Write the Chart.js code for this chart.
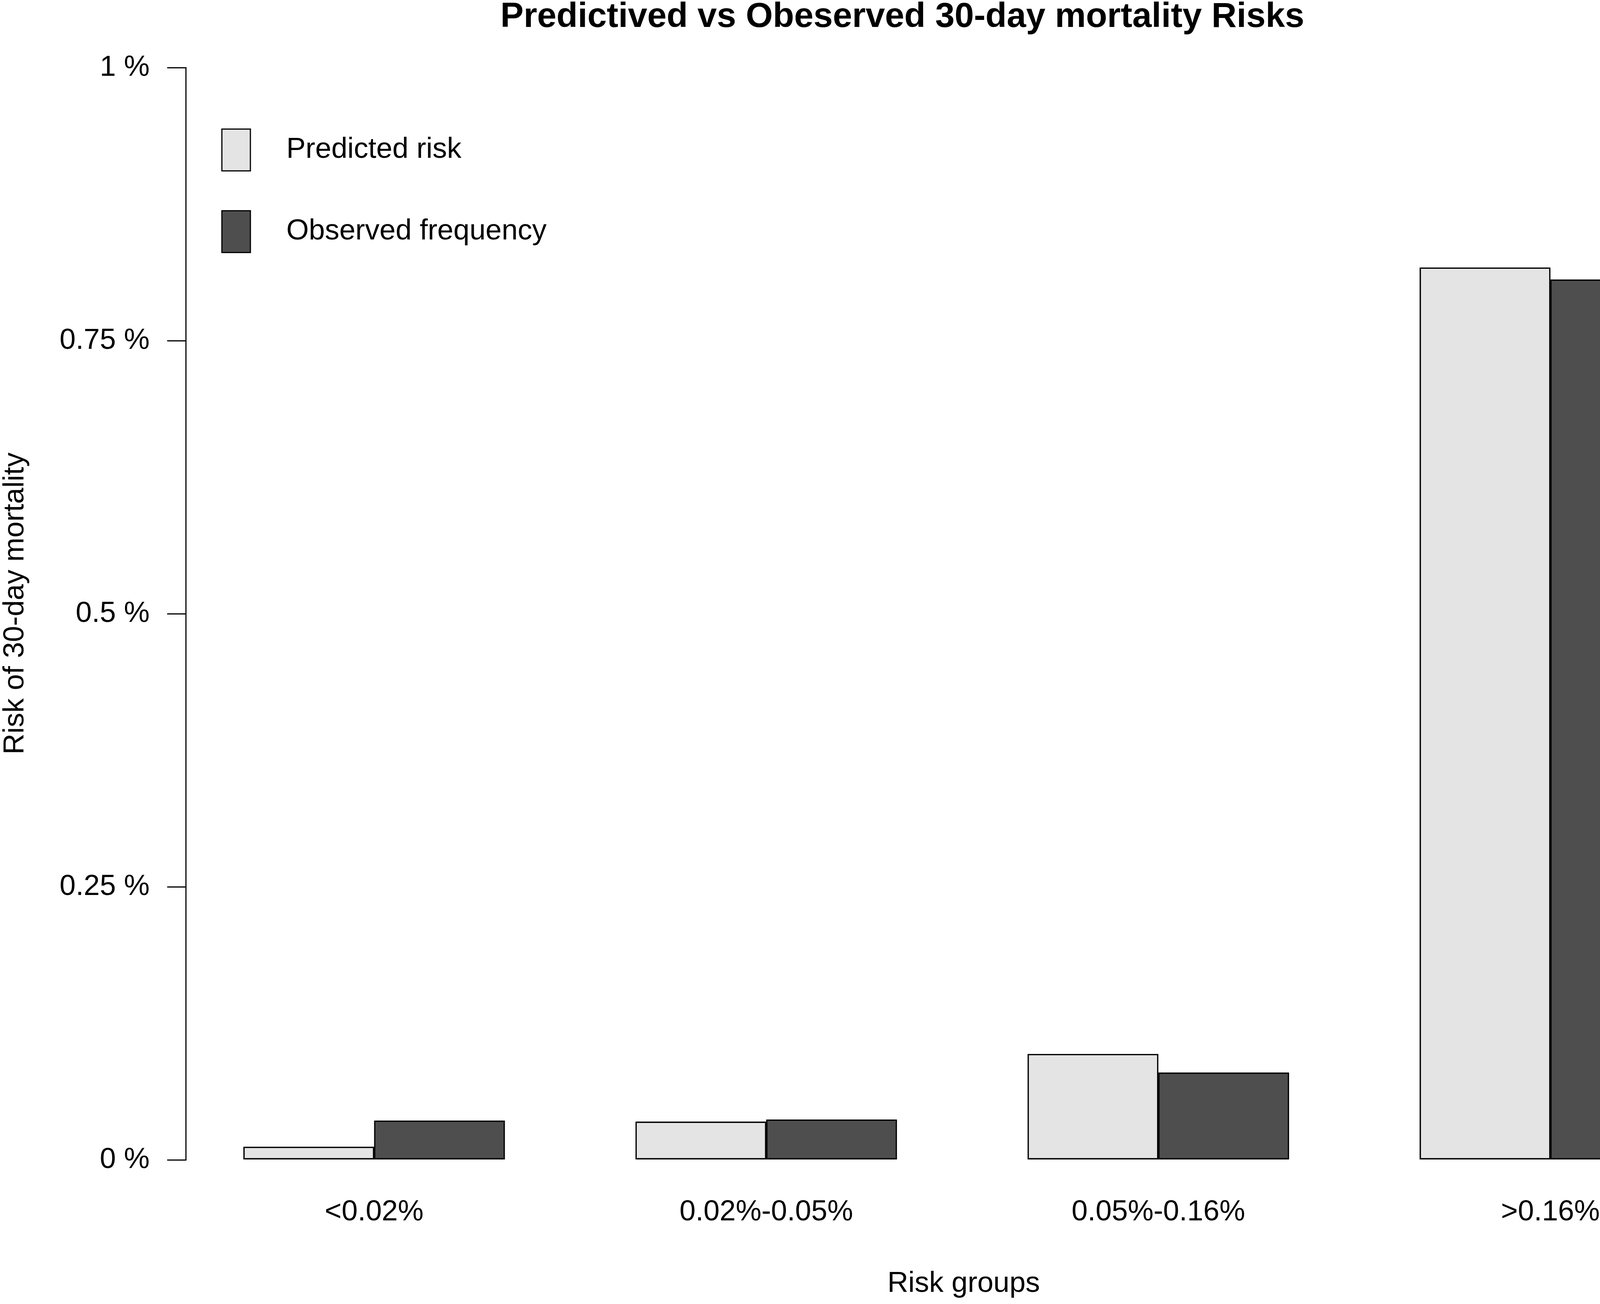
<!DOCTYPE html>
<html>
<head>
<meta charset="utf-8">
<script src="https://cdn.jsdelivr.net/npm/chart.js@4/dist/chart.umd.min.js"></script>
<style>
  html, body { margin: 0; padding: 0; background: #ffffff; }
  #wrap { width: 4317px; height: 3338px; position: relative; }
</style>
</head>
<body>
<div id="wrap"><canvas id="c"></canvas></div>
<script>
// ---- data ----
const categories = ['<0.02%', '0.02%-0.05%', '0.05%-0.16%', '>0.16%'];
const predictedRisk = [0.012, 0.035, 0.097, 0.817];
const observedFrequency = [0.036, 0.037, 0.080, 0.806];
const seriesNames = ['Predicted risk', 'Observed frequency'];
const yTickValues = [0, 0.25, 0.5, 0.75, 1];
const yTickLabels = ['0 %', '0.25 %', '0.5 %', '0.75 %', '1 %'];
const chartTitle = 'Predictived vs Obeserved 30-day mortality Risks';
const xAxisTitle = 'Risk groups';
const yAxisTitle = 'Risk of 30-day mortality';

// R barplot(beside = TRUE) layout: each group = 1 space unit + 2 bars of 1 unit
const barSlot = (g, k) => 3 * g + 1.5 + k;
const groupCenter = g => 3 * g + 2;

const FONT = "'Liberation Sans', Arial, Helvetica, sans-serif";
Chart.defaults.font.family = FONT;
Chart.defaults.color = '#000000';

// R's plot region extends past the right edge of the picture; centre the
// x-axis title on that wider region (only the title uses the box edge).
const xTitleRegion = {
  id: 'xTitleRegion',
  afterLayout(chart, args, o) {
    chart.scales.x.right += o.extend;
  }
};

const yAxisLine = {
  id: 'yAxisLine',
  afterDraw(chart) {
    const ys = chart.scales.y;
    const x = chart.chartArea.left;
    const ctx = chart.ctx;
    ctx.save();
    ctx.strokeStyle = '#000000';
    ctx.lineWidth = 3;
    ctx.beginPath();
    ctx.moveTo(x, ys.getPixelForValue(yTickValues[0]) + 1.5);
    ctx.lineTo(x, ys.getPixelForValue(yTickValues[yTickValues.length - 1]) - 1.5);
    ctx.stroke();
    ctx.restore();
  }
};

const rLegend = {
  id: 'rLegend',
  afterDraw(chart, args, o) {
    const { ctx, chartArea } = chart;
    ctx.save();
    chart.data.datasets.forEach((ds, i) => {
      const bx = chartArea.left + o.offsetX;
      const by = chartArea.top + o.offsetY + i * o.rowPitch;
      ctx.fillStyle = ds.backgroundColor;
      ctx.fillRect(bx, by, o.boxW, o.boxH);
      ctx.lineWidth = 3;
      ctx.strokeStyle = '#000000';
      ctx.strokeRect(bx, by, o.boxW, o.boxH);
      ctx.fillStyle = '#000000';
      ctx.font = o.fontSize + 'px ' + FONT;
      ctx.textAlign = 'left';
      ctx.textBaseline = 'middle';
      ctx.fillText(ds.label, bx + o.textDX, by + o.boxH / 2);
    });
    ctx.restore();
  }
};

new Chart(document.getElementById('c'), {
  type: 'bar',
  data: {
    datasets: [
      {
        label: seriesNames[0],
        data: predictedRisk.map((v, g) => ({ x: barSlot(g, 0), y: v })),
        backgroundColor: '#E4E4E4',
        borderColor: '#000000',
        borderWidth: 3.5,
        borderSkipped: false,
        grouped: false,
        barPercentage: 1,
        categoryPercentage: 1
      },
      {
        label: seriesNames[1],
        data: observedFrequency.map((v, g) => ({ x: barSlot(g, 1), y: v })),
        backgroundColor: '#4E4E4E',
        borderColor: '#000000',
        borderWidth: 3.5,
        borderSkipped: false,
        grouped: false,
        barPercentage: 1,
        categoryPercentage: 1
      }
    ]
  },
  options: {
    responsive: true,
    maintainAspectRatio: false,
    devicePixelRatio: 1,
    animation: false,
    layout: { padding: { left: 130, right: -173, top: 0, bottom: 0 } },
    plugins: {
      legend: { display: false },
      tooltip: { enabled: false },
      title: {
        display: true,
        text: chartTitle,
        color: '#000000',
        font: { size: 89, weight: 'bold', lineHeight: 1 },
        padding: { top: 0, bottom: 0 }
      },
      xTitleRegion: { extend: 141 },
      rLegend: { offsetX: 92, offsetY: 241, rowPitch: 209, boxW: 73, boxH: 107, textDX: 165, fontSize: 74 }
    },
    scales: {
      x: {
        type: 'linear',
        offset: false,
        min: 0.56,
        max: 12.04,
        grid: { display: false, drawTicks: false, offset: false },
        border: { display: false },
        afterBuildTicks: s => { s.ticks = categories.map((c, g) => ({ value: groupCenter(g) })); },
        afterFit: s => { s.height = 338; },
        ticks: {
          autoSkip: false,
          maxRotation: 0,
          minRotation: 0,
          padding: 59,
          font: { size: 74 },
          color: '#000000',
          callback: (v, i) => categories[i]
        },
        title: {
          display: true,
          text: xAxisTitle,
          color: '#000000',
          font: { size: 74 },
          padding: { top: 0, bottom: 7 }
        }
      },
      y: {
        type: 'linear',
        min: -0.011,
        max: 1.03,
        grid: { display: true, drawOnChartArea: false, drawTicks: true, tickLength: 48, color: '#000000', lineWidth: 3 },
        border: { display: false },
        afterBuildTicks: s => { s.ticks = yTickValues.map(v => ({ value: v })); },
        afterFit: s => { s.width = 346; },
        ticks: {
          autoSkip: false,
          padding: 45,
          font: { size: 74 },
          color: '#000000',
          callback: (v, i) => yTickLabels[i]
        },
        title: {
          display: true,
          text: yAxisTitle,
          color: '#000000',
          font: { size: 74 },
          padding: { top: -135, bottom: 0 }
        }
      }
    }
  },
  plugins: [xTitleRegion, yAxisLine, rLegend]
});
</script>
</body>
</html>
